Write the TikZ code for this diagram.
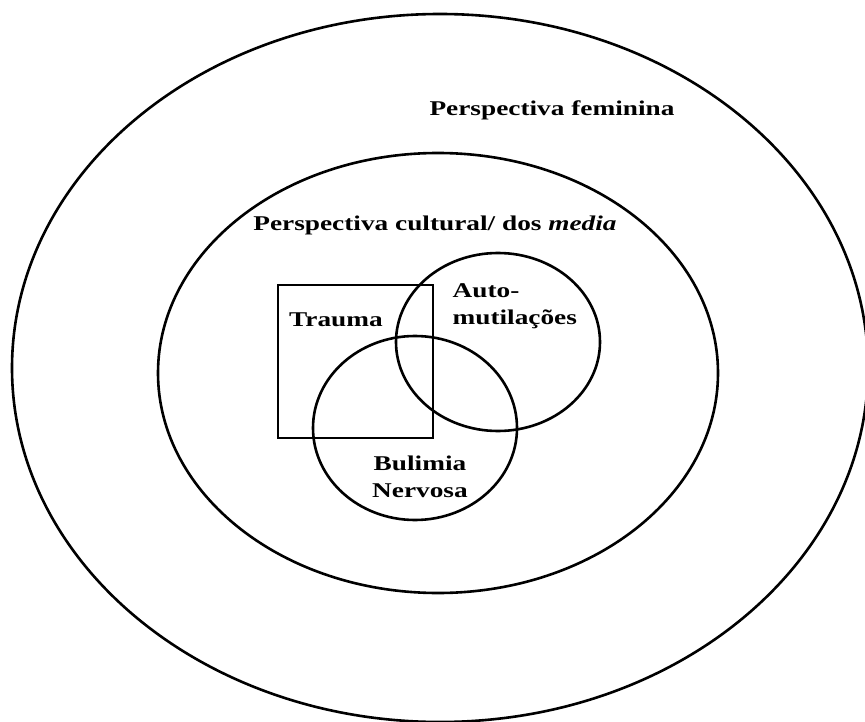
\documentclass[tikz,border=0pt]{standalone}
\usepackage{fontspec}
\setmainfont[FakeStretch=1.3]{Liberation Serif}
\begin{document}
\begin{tikzpicture}[x=1pt,y=-1pt,line width=2.6pt,
  every node/.style={font=\bfseries\fontsize{21}{27}\selectfont}]
\path[use as bounding box,clip] (0,0) rectangle (865,722);
% circles
\draw (440,368) ellipse (428 and 354);
\draw (438,373) ellipse (280 and 220);
\draw (278,285) rectangle (433,438);
\draw (498,342) ellipse (102 and 89);
\draw (415,428) ellipse (102 and 92);
% labels
\node (fem) at (552,110) {Perspectiva feminina};
\node (cult) at (435,225) {Perspectiva cultural/ dos \textit{media}};
\node (trauma) at (336,320) {Trauma};
\node[align=left,anchor=west] (auto) at (448,306) {Auto-\\mutilações};
\node[align=center] (bulimia) at (420,477) {Bulimia\\Nervosa};
\end{tikzpicture}
\end{document}
